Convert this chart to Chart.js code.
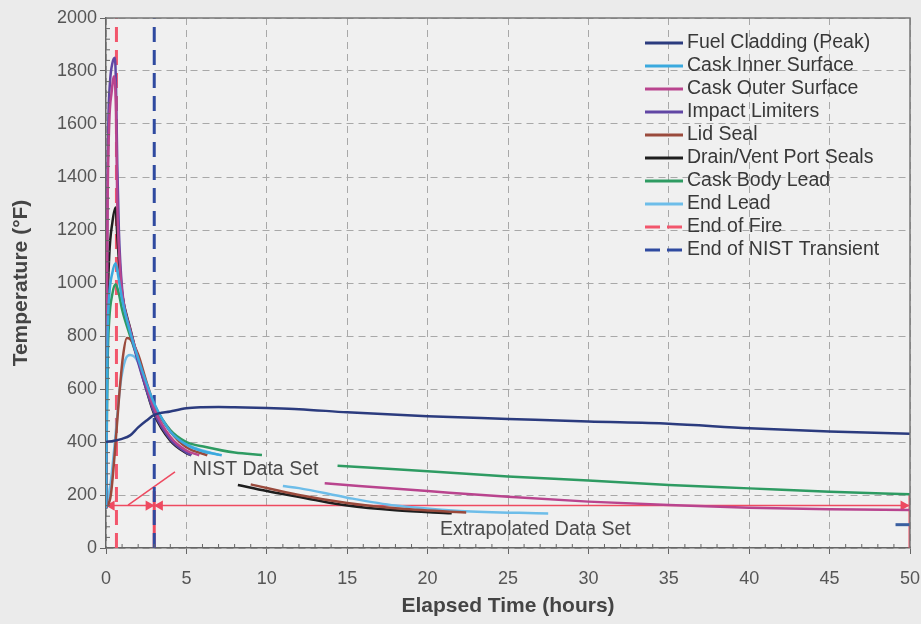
<!DOCTYPE html>
<html lang="en">
<head>
<meta charset="UTF-8">
<title>Cask Temperatures - Fire Transient</title>
<script src="https://cdn.jsdelivr.net/npm/chart.js"></script>
<style>
  html, body { margin: 0; padding: 0; background: #ebebeb; }
  #wrap { width: 921px; height: 624px; }
</style>
</head>
<body>
<div id="wrap"><canvas id="tempChart" width="921" height="624"></canvas></div>
<script>
// values: time in hours, temperature in °F
// a null temperature splits the NIST data set from the extrapolated data set
const fuelTime = [0, 0.5, 1, 1.5, 2, 2.5, 3, 4, 5, 6, 7, 8, 10, 12, 15, 20, 25, 30, 35, 40, 45, 50];
const fuelTemp = [400, 405, 412, 425, 455, 480, 502, 515, 527, 531, 532, 531, 528, 524, 512, 497, 487, 477, 469, 452, 440, 431];

const innerTime = [0, 0.05, 0.1, 0.2, 0.4, 0.6, 0.75, 1, 1.5, 2, 2.5, 3, 4, 5, 6, 7.2];
const innerTemp = [150, 500, 800, 950, 1040, 1075, 1030, 940, 815, 715, 625, 545, 440, 390, 365, 350];

const outerTime = [0, 0.05, 0.1, 0.2, 0.35, 0.5, 0.62, 0.7, 0.85, 1, 1.5, 2, 2.5, 3, 4, 5, 5.8, 9, 13.6, 20, 25, 30, 35, 40, 45, 50];
const outerTemp = [150, 850, 1300, 1600, 1720, 1780, 1650, 1300, 1080, 965, 825, 715, 615, 525, 420, 368, 350, null, 244, 215, 193, 175, 162, 152, 146, 143];

const limiterTime = [0, 0.05, 0.1, 0.15, 0.25, 0.4, 0.55, 0.62, 0.7, 0.8, 1, 1.5, 2, 2.5, 3, 4, 5, 5.3];
const limiterTemp = [150, 900, 1400, 1620, 1760, 1830, 1850, 1750, 1450, 1200, 980, 820, 700, 600, 510, 410, 360, 350];

const lidTime = [0, 0.3, 0.56, 0.8, 1.05, 1.3, 1.5, 2, 2.5, 3, 4, 5, 6.3, 7.5, 9, 12, 15, 18, 22.4];
const lidTemp = [150, 200, 370, 560, 720, 792, 788, 730, 630, 540, 440, 380, 350, null, 240, 200, 170, 150, 134];

const drainTime = [0, 0.05, 0.1, 0.2, 0.4, 0.6, 0.7, 0.85, 1, 1.5, 2, 2.5, 3, 4, 5, 5.3, 7, 8.2, 10, 12.5, 15, 18, 21.5];
const drainTemp = [150, 600, 900, 1100, 1230, 1285, 1180, 1050, 960, 830, 710, 600, 505, 405, 358, 350, null, 238, 215, 187, 160, 142, 131];

const leadTime = [0, 0.05, 0.1, 0.2, 0.4, 0.6, 0.8, 1, 1.5, 2, 2.5, 3, 4, 5, 6.2, 8, 9.7, 12, 14.4, 20, 25, 30, 35, 40, 45, 50];
const leadTemp = [150, 450, 700, 860, 960, 995, 960, 900, 800, 710, 620, 540, 445, 400, 381, 360, 351, null, 310, 290, 270, 255, 238, 225, 212, 203];

const endLeadTime = [0, 0.3, 0.6, 0.9, 1.2, 1.5, 1.8, 2, 2.5, 3, 4, 5, 6, 7, 9, 11, 12, 15, 18, 22, 27.5];
const endLeadTemp = [150, 250, 430, 620, 710, 728, 720, 700, 620, 540, 440, 392, 368, 352, null, 234, 226, 190, 160, 140, 130];

const tailTime = [49.1, 50];
const tailTemp = [88, 88];

const fireTime = [0.65, 0.65];
const nistTime = [3, 3];
const fullSpan = [0, 2000];

// dimension lines for the two data sets
const dimTime = [0, 50];
const dimTemp = [160, 160];
const arrowTime = [0.35, 2.65, 3.35, 49.6];
const arrowTemp = [160, 160, 160, 160];
const arrowTurn = [-90, 90, -90, 90];
const stopTimeA = [3, 3];
const stopTempA = [0, 215];
const stopTimeB = [50, 50];
const stopTempB = [0, 200];
const leaderTime = [1.37, 4.29];
const leaderTemp = [162, 287];

const noteText = ['NIST Data Set', 'Extrapolated Data Set'];
const noteTime = [9.3, 26.7];
const noteTemp = [294, 68];

const pts = (t, v) => t.map((x, i) => ({ x: x, y: v[i] }));

function curve(label, t, v, color) {
    return {
        label: label, data: pts(t, v), borderColor: color, backgroundColor: color,
        borderWidth: 2.5, pointRadius: 0, fill: false, spanGaps: false,
        cubicInterpolationMode: 'monotone'
    };
}

function straight(t, v, color, width, dash, label) {
    return {
        label: label, data: pts(t, v), borderColor: color, backgroundColor: color,
        borderWidth: width, borderDash: dash || [], pointRadius: 0, fill: false, tension: 0
    };
}

const red = '#ee4a60';

const datasets = [
    curve('Fuel Cladding (Peak)', fuelTime, fuelTemp, '#2b3b7e'),
    curve('Cask Inner Surface', innerTime, innerTemp, '#3aa9de'),
    curve('Cask Outer Surface', outerTime, outerTemp, '#b9448e'),
    curve('Impact Limiters', limiterTime, limiterTemp, '#6146a4'),
    curve('Lid Seal', lidTime, lidTemp, '#9a4a3c'),
    curve('Drain/Vent Port Seals', drainTime, drainTemp, '#1e1e1e'),
    curve('Cask Body Lead', leadTime, leadTemp, '#2e9b62'),
    curve('End Lead', endLeadTime, endLeadTemp, '#6dbde9'),
    straight(fireTime, fullSpan, '#f2566c', 3, [15, 8], 'End of Fire'),
    straight(nistTime, fullSpan, '#2f4aa0', 3, [15, 8], 'End of NIST Transient'),
    straight(tailTime, tailTemp, '#3a5fa0', 3),
    straight(dimTime, dimTemp, red, 1.5),
    straight(stopTimeA, stopTempA, red, 3),
    straight(stopTimeB, stopTempB, red, 3),
    straight(leaderTime, leaderTemp, red, 1.5),
    {
        data: pts(arrowTime, arrowTemp), showLine: false,
        pointStyle: 'triangle', pointRotation: arrowTurn, pointRadius: 6,
        pointBackgroundColor: red, pointBorderColor: red, pointBorderWidth: 0
    }
];

const plotBack = {
    id: 'plotBack',
    beforeDraw(chart) {
        const { ctx, chartArea: a } = chart;
        ctx.save();
        ctx.fillStyle = '#f0f0f0';
        ctx.fillRect(a.left, a.top, a.right - a.left, a.bottom - a.top);
        ctx.restore();
    }
};

const extras = {
    id: 'extras',
    afterDraw(chart) {
        const { ctx, chartArea: a, scales: { x, y } } = chart;
        ctx.save();
        // frame top and right
        ctx.strokeStyle = '#777';
        ctx.lineWidth = 1.5;
        ctx.beginPath();
        ctx.moveTo(a.left, a.top); ctx.lineTo(a.right, a.top); ctx.lineTo(a.right, a.bottom);
        ctx.stroke();
        // minor ticks
        ctx.strokeStyle = '#666';
        ctx.lineWidth = 1;
        ctx.beginPath();
        for (let h = 1; h < 50; h++) {
            if (h % 5 === 0) continue;
            const px = x.getPixelForValue(h);
            ctx.moveTo(px, a.bottom); ctx.lineTo(px, a.bottom - 4);
        }
        for (let t = 40; t < 2000; t += 40) {
            if (t % 200 === 0) continue;
            const py = y.getPixelForValue(t);
            ctx.moveTo(a.left, py); ctx.lineTo(a.left + 4, py);
        }
        ctx.stroke();

        // data set notes
        ctx.font = '19.5px "Liberation Sans", Arial, sans-serif';
        ctx.fillStyle = '#4a4a4a';
        ctx.textAlign = 'center';
        ctx.textBaseline = 'middle';
        noteText.forEach((s, i) => ctx.fillText(s, x.getPixelForValue(noteTime[i]), y.getPixelForValue(noteTemp[i])));

        // legend inside the plot
        ctx.font = '19.5px "Liberation Sans", Arial, sans-serif';
        ctx.fillStyle = '#383838';
        ctx.textAlign = 'left';
        let ry = 43;
        chart.data.datasets.forEach(ds => {
            if (!ds.label) return;
            ctx.strokeStyle = ds.borderColor;
            ctx.lineWidth = 3;
            ctx.setLineDash(ds.borderDash && ds.borderDash.length ? [15, 7] : []);
            ctx.beginPath();
            ctx.moveTo(645, ry); ctx.lineTo(683, ry);
            ctx.stroke();
            ctx.setLineDash([]);
            ctx.fillText(ds.label, 687, ry);
            ry += 23;
        });
        ctx.restore();
    }
};

const tickFont = { family: '"Liberation Sans", Arial, sans-serif', size: 18 };
const titleFont = { family: '"Liberation Sans", Arial, sans-serif', size: 21, weight: 'bold' };
const gridStyle = { color: '#a8a8a8', lineWidth: 1, tickLength: 6, tickColor: '#666' };

new Chart(document.getElementById('tempChart'), {
    type: 'line',
    data: { datasets: datasets },
    options: {
        responsive: false,
        animation: false,
        devicePixelRatio: 1,
        layout: { padding: { top: 18, right: 11, left: 0, bottom: 0 } },
        plugins: { legend: { display: false }, tooltip: { enabled: false } },
        scales: {
            x: {
                type: 'linear', min: 0, max: 50,
                ticks: { stepSize: 5, font: tickFont, color: '#555', padding: 14, maxRotation: 0, callback: v => v },
                grid: gridStyle,
                border: { display: true, color: '#666', width: 1.5, dash: [7, 5] },
                title: { display: true, text: 'Elapsed Time (hours)', font: titleFont, color: '#444', padding: { top: 0, bottom: 5 } },
                afterFit: s => { s.height = 76; s.paddingLeft = 0; s.paddingRight = 10; }
            },
            y: {
                min: 0, max: 2000,
                ticks: { stepSize: 200, font: tickFont, color: '#555', padding: 3, callback: v => v },
                grid: gridStyle,
                border: { display: true, color: '#666', width: 1.5, dash: [7, 5] },
                title: { display: true, text: 'Temperature (°F)', font: titleFont, color: '#444', padding: { top: 9, bottom: 0 } },
                afterFit: s => { s.width = 106; }
            }
        }
    },
    plugins: [plotBack, extras]
});
</script>
</body>
</html>
